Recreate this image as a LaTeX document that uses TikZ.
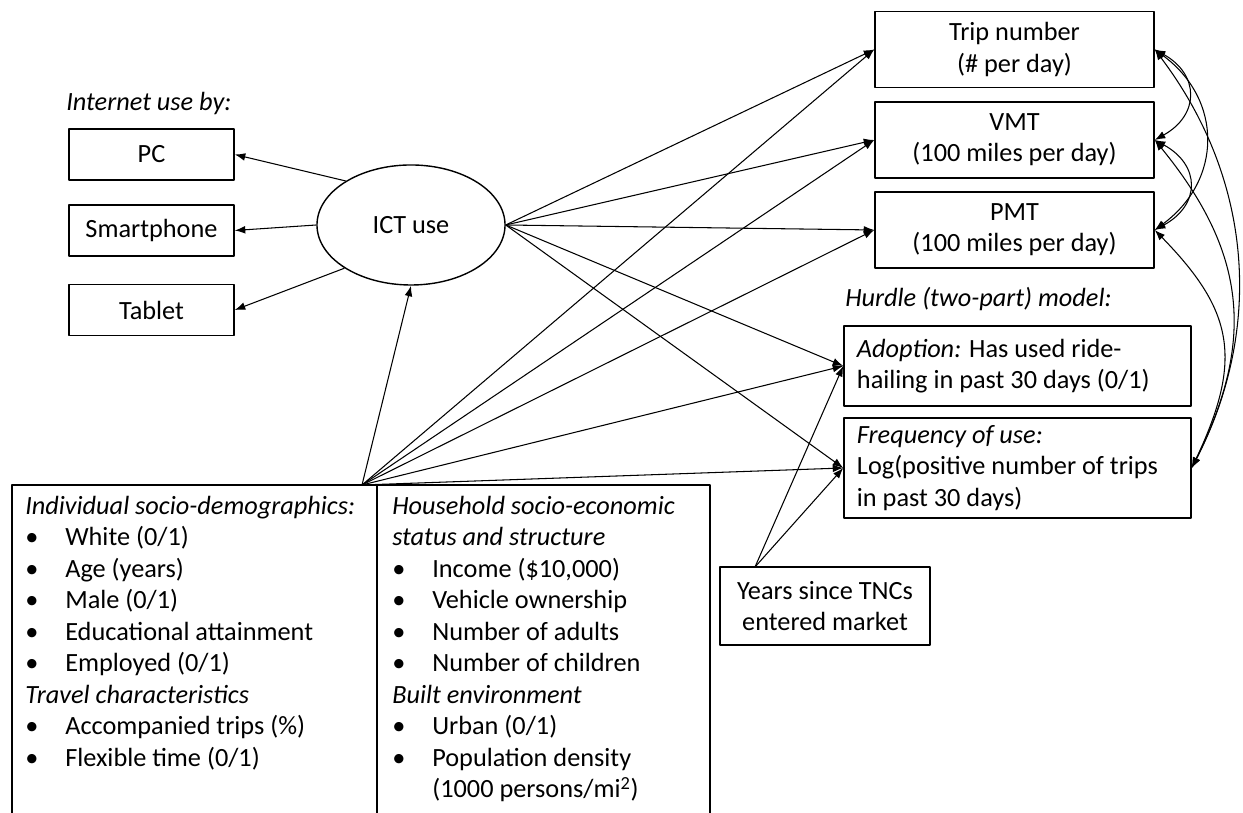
\documentclass[tikz,border=0pt]{standalone}
\usepackage{fontspec}
\setmainfont{Carlito}
\usetikzlibrary{shapes.geometric,arrows.meta}
\newcommand{\itm}{\makebox[1cm][l]{\textbullet}}
\begin{document}
\begin{tikzpicture}[x=0.025cm,y=0.025cm,font=\fontsize{18.7}{22.3}\selectfont, line join=round, >={Latex[length=7.5pt,width=5.5pt]},
	box/.style={draw,line width=1pt,inner sep=2pt,align=center},
	dev/.style={box,minimum width=4.125cm,minimum height=1.28cm},
	outc/.style={box,minimum width=6.975cm,minimum height=1.9cm},
	hurd/.style={box,minimum width=8.675cm,text width=8.025cm,inner xsep=0.325cm,align=flush left},
	arr/.style={->,line width=0.75pt},
	cov/.style={<->,line width=0.75pt},
	lbl/.style={inner sep=0,anchor=west,text height=0.7em,text depth=0.22em}]
	\useasboundingbox (0,0) rectangle (1243,813);
	% Internet use
	\node[lbl] (inet) at (66,706) {\textit{Internet use by:}};
	\node[dev] (pc) at (151.5,658.5) {PC};
	\node[dev] (smart) at (151.5,582.5) {Smartphone};
	\node[dev] (tablet) at (151.5,503) {Tablet};
	\node[draw,ellipse,line width=1pt,minimum width=4.7cm,minimum height=3cm,inner sep=0] (ict) at (411,588) {ICT use};
	% outcomes
	\node[outc] (trip) at (1014.5,763.5) {Trip number\\(\# per day)};
	\node[outc] (vmt) at (1014.5,673) {VMT\\(100 miles per day)};
	\node[outc] (pmt) at (1014.5,583) {PMT\\(100 miles per day)};
	\node[lbl] (hurdle) at (845,510) {\textit{Hurdle (two-part) model:}};
	\node[hurd,minimum height=2cm] (adopt) at (1017.5,447) {\textit{Adoption:} Has used ride-\\hailing in past 30 days (0/1)};
	\node[hurd,minimum height=2.5cm] (freq) at (1017.5,345) {\textit{Frequency of use:}\\Log(positive number of trips\\in past 30 days)};
	\node[box,minimum width=5.25cm,minimum height=1.95cm] (years) at (825,207) {Years since TNCs\\entered market};
	\coordinate (yrs) at (755,246);
	% explanatory variables
	\draw[line width=1pt] (12,0) -- (12,328) -- (710,328) -- (710,0);
	\draw[line width=1pt] (377,0) -- (377,328);
	\coordinate (src) at (362,328);
	\foreach \txt [count=\i from 0] in {\textit{Individual socio-demographics:},\itm White (0/1),\itm Age (years),\itm Male (0/1),\itm Educational attainment,\itm Employed (0/1),\textit{Travel characteristics},\itm Accompanied trips (\%),\itm Flexible time (0/1)}
		\node[lbl] (ind\i) at ({25},{302-31.5*\i}) {\txt};
	\foreach \txt [count=\i from 0] in {\textit{Household socio-economic},\textit{status and structure},{\itm Income (\$10,000)},\itm Vehicle ownership,\itm Number of adults,\itm Number of children,\textit{Built environment},\itm Urban (0/1),\itm Population density,\hspace*{1cm}(1000 persons/mi\textsuperscript{2})}
		\node[lbl] (hh\i) at ({392},{302-31.5*\i}) {\txt};
	% paths
	\draw[arr] (ict.146) -- (pc.east);
	\draw[arr] (ict.west) -- (smart.east);
	\draw[arr] (ict.213) -- (tablet.east);
	\draw[arr] (src) -- (ict.south);
	\foreach \t in {trip,vmt,pmt,adopt,freq} {
		\draw[arr] (ict.east) -- (\t.west);
		\draw[arr] (src) -- (\t.west);
	}
	\draw[arr] (yrs) -- (adopt.west);
	\draw[arr] (yrs) -- (freq.west);
	% covariances
	\draw[cov] (trip.east) .. controls +(45,-25) and +(45,25) .. (vmt.east);
	\draw[cov] (vmt.east) .. controls +(46,-25) and +(46,25) .. (pmt.east);
	\draw[cov] (trip.east) .. controls +(68,-50) and +(68,50) .. (pmt.east);
	\draw[cov] (trip.east) .. controls +(98,-130) and +(72,140) .. (freq.east);
	\draw[cov] (vmt.east) .. controls +(90,-110) and +(65,130) .. (freq.east);
	\draw[cov] (pmt.east) .. controls +(78,-80) and +(52,110) .. (freq.east);
\end{tikzpicture}
\end{document}
